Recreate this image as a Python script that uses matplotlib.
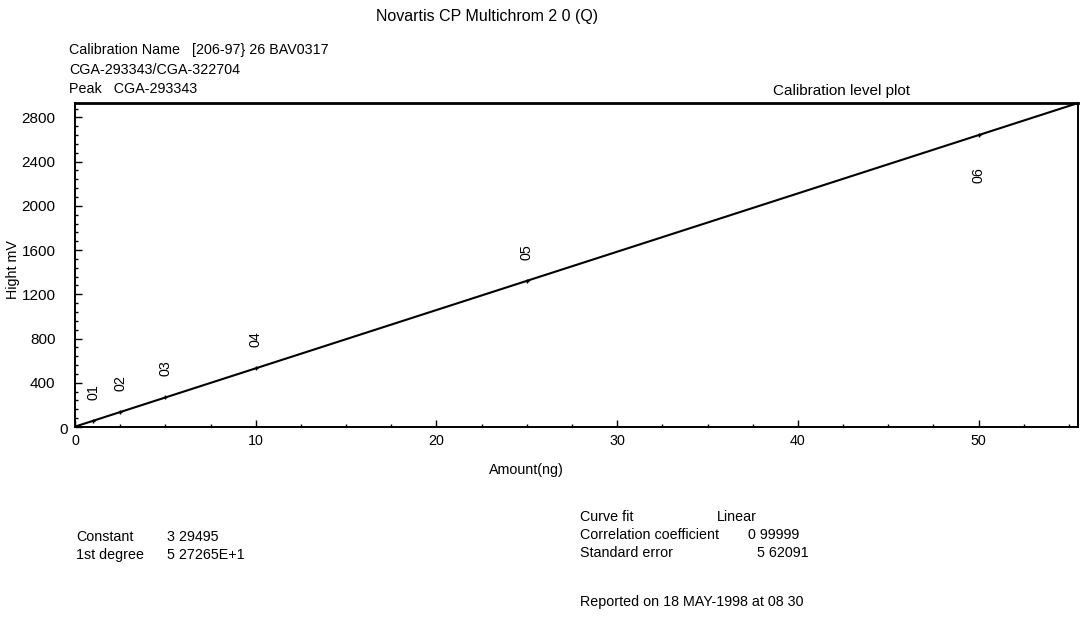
import numpy as np
import matplotlib.pyplot as plt
from matplotlib.ticker import MultipleLocator, FuncFormatter
from matplotlib.transforms import offset_copy

plt.rcParams['font.family'] = ['Liberation Sans', 'DejaVu Sans']

# Calibration levels (amount in ng) and measured peak heights (mV)
levels = ["01", "02", "03", "04", "05", "06"]
amount = [1, 2.5, 5, 10, 25, 50]
height = [56, 135, 267, 530, 1322, 2640]

# Linear fit coefficients reported by the system
constant = 3.29495
slope = 52.7265

fs = 10.3
fig = plt.figure(figsize=(10.87, 6.25), dpi=100)
ax = fig.add_axes([0.069, 0.3168, 0.9227, 0.5184])

x_fit = np.array([0, 55.5])
ax.plot(x_fit, constant + slope * x_fit, color="black", lw=1.5)
ax.plot(amount, height, linestyle="none", marker="+", markersize=3,
        mew=1.0, color="black")

# level labels sit above their point, the last one below the line
for i, (lab, x, y) in enumerate(zip(levels, amount, height)):
    ly = y - 365 if i == len(levels) - 1 else y + 262
    ax.text(x, ly, lab, rotation=90, ha="center", va="center", fontsize=fs)

ax.set_xlim(0, 55.5)
ax.set_ylim(0, 2930)
ax.xaxis.set_major_locator(MultipleLocator(10))
ax.xaxis.set_minor_locator(MultipleLocator(2.5))
ax.yaxis.set_major_locator(MultipleLocator(400))
ax.yaxis.set_minor_locator(MultipleLocator(80))
# the zero on the y axis is written closer to the spine, done separately below
ax.yaxis.set_major_formatter(FuncFormatter(lambda v, p: "" if v == 0 else f"{v:.0f}"))
ax.tick_params(which="both", direction="in", width=1)
ax.tick_params(which="major", length=5)
ax.tick_params(which="minor", length=2.5)
ax.tick_params(axis="y", pad=14, labelsize=11)
ax.tick_params(axis="x", pad=5, labelsize=fs)
for s in ax.spines.values():
    s.set_linewidth(1.4)
ax.spines["top"].set_linewidth(2)

zero_tr = offset_copy(ax.get_yaxis_transform(), fig=fig, x=-5, y=-2, units="points")
ax.text(0, 0, "0", transform=zero_tr, ha="right", va="center", fontsize=11)

ax.set_xlabel("Amount(ng)", fontsize=fs)
ax.xaxis.set_label_coords(0.45, -0.11)
ax.set_ylabel("Hight mV", fontsize=fs)
ax.yaxis.set_label_coords(-0.055, 0.485)

ax.text(0.764, 1.015, "Calibration level plot", transform=ax.transAxes,
        ha="center", va="bottom", fontsize=11)

def put(px, py, s, ha="left", size=fs):
    fig.text(px / 1087, 1 - py / 625, s, ha=ha, va="center", fontsize=size)

put(487, 17, "Novartis CP Multichrom 2 0 (Q)", ha="center", size=11.5)
put(69, 50, "Calibration Name   [206-97} 26 BAV0317")
put(69, 70, "CGA-293343/CGA-322704")
put(69, 89, "Peak   CGA-293343")

put(76, 537, "Constant")
put(167, 537, "3 29495")
put(76, 555, "1st degree")
put(167, 555, "5 27265E+1")

put(580, 517, "Curve fit")
put(717, 517, "Linear")
put(580, 535, "Correlation coefficient")
put(748, 535, "0 99999")
put(580, 553, "Standard error")
put(757, 553, "5 62091")

put(580, 602, "Reported on 18 MAY-1998 at 08 30")

fig.savefig("out.png", dpi=100, facecolor="white")
